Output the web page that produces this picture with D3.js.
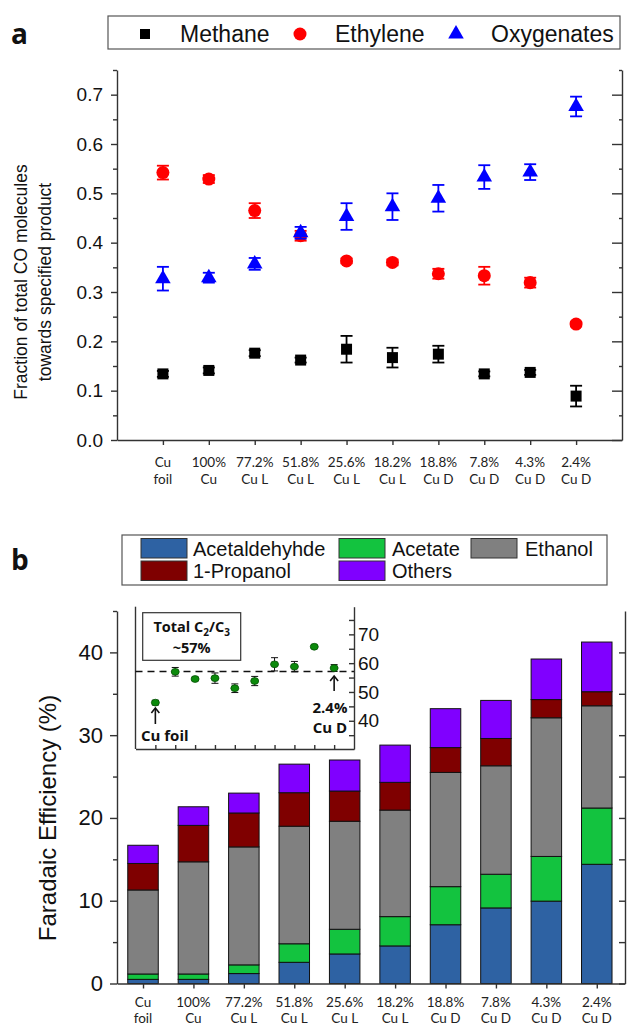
<!DOCTYPE html>
<html>
<head>
<meta charset="utf-8">
<script src="https://cdnjs.cloudflare.com/ajax/libs/d3/7.8.5/d3.min.js"></script>
<style>
  body { margin: 0; background: #fff; }
  text { font-family: "Liberation Sans", Arial, sans-serif; fill: #111; }
  .cat { font-family: Lato, "Open Sans", sans-serif; font-size: 13.5px; fill: #222; }
  .bold { font-family: "Open Sans", sans-serif; font-weight: bold; }
  .axis path, .axis line { stroke: #333; stroke-width: 1.4; }
</style>
</head>
<body>
<div id="chart"></div>
<script>
// Sample names, split in two lines for tick labels
const labelTop = ['Cu', '100%', '77.2%', '51.8%', '25.6%', '18.2%', '18.8%', '7.8%', '4.3%', '2.4%'];
const labelBottom = ['foil', 'Cu', 'Cu L', 'Cu L', 'Cu L', 'Cu L', 'Cu D', 'Cu D', 'Cu D', 'Cu D'];

// Panel a: fraction of CO molecules
const methane = [0.134, 0.141, 0.176, 0.162, 0.184, 0.167, 0.174, 0.134, 0.137, 0.089];
const methaneErr = [0.006, 0.006, 0.006, 0.005, 0.027, 0.02, 0.017, 0.005, 0.005, 0.021];
const ethylene = [0.542, 0.529, 0.465, 0.414, 0.363, 0.360, 0.337, 0.333, 0.319, 0.235];
const ethyleneErr = [0.014, 0.008, 0.015, 0.01, 0.005, 0.006, 0.01, 0.018, 0.01, 0.005];
const oxygenates = [0.327, 0.329, 0.357, 0.420, 0.453, 0.473, 0.490, 0.533, 0.543, 0.676];
const oxygenatesErr = [0.024, 0.01, 0.012, 0.012, 0.027, 0.027, 0.027, 0.024, 0.016, 0.02];
const yTicksA = [0, 0.1, 0.2, 0.3, 0.4, 0.5, 0.6, 0.7];

// Panel b: faradaic efficiency (%) stacks
const acetaldehyde = [0.5, 0.5, 1.2, 2.56, 3.57, 4.54, 7.1, 9.13, 9.95, 14.4];
const acetate = [0.65, 0.65, 1.05, 2.24, 2.98, 3.54, 4.6, 4.07, 5.4, 6.8];
const ethanol = [10.15, 13.55, 14.25, 14.2, 13.05, 12.87, 13.8, 13.1, 16.75, 12.35];
const propanol = [3.2, 4.4, 4.1, 4.05, 3.65, 3.35, 3.0, 3.3, 2.2, 1.7];
const others = [2.2, 2.25, 2.4, 3.45, 3.75, 4.5, 4.7, 4.6, 4.9, 6.0];
const yTicksB = [0, 10, 20, 30, 40];

// Inset: total C2/C3 (%)
const c2c3 = [46.3, 57.0, 54.5, 54.8, 51.3, 53.8, 59.6, 58.8, 65.7, 58.3];
const c2c3Err = [0.8, 1.5, 0.6, 1.8, 1.5, 1.6, 2.3, 1.8, 0.4, 1.2];
const c2c3Mean = 57.1;
const yTicksInset = [40, 50, 60, 70];

const WIDTH = 627, HEIGHT = 1025;

const svg = d3.select('#chart').append('svg')
  .attr('width', WIDTH).attr('height', HEIGHT)
  .style('display', 'block');

svg.append('rect').attr('width', WIDTH).attr('height', HEIGHT).attr('fill', '#fff');

// ---------- panel a ----------
const xA = d3.scaleLinear().domain([-1, 10]).range([117, 622]);
const yA = d3.scaleLinear().domain([0, 0.75]).range([440, 70]);
const idx = d3.range(10);

svg.append('text').attr('class', 'bold').attr('x', 11).attr('y', 44)
  .attr('font-size', 28).text('a');

// left axis
const leftA = svg.append('g').attr('class', 'axis').attr('transform', 'translate(117,0)')
  .call(d3.axisLeft(yA).tickValues(yTicksA).tickSize(6).tickPadding(8).tickSizeOuter(0)
    .tickFormat(d3.format('.1f')));
leftA.selectAll('text').attr('font-size', 19).attr('font-family', '"Liberation Sans", Arial');
svg.append('g').attr('class', 'axis').attr('transform', 'translate(117,0)')
  .call(d3.axisLeft(yA).tickValues(yTicksA.map(d => d + 0.05)).tickSize(4).tickFormat(''))
  .select('.domain').remove();

// right axis
svg.append('g').attr('class', 'axis').attr('transform', 'translate(622,0)')
  .call(d3.axisLeft(yA).tickValues(yTicksA).tickSize(10).tickSizeOuter(0).tickFormat(''));
svg.append('g').attr('class', 'axis').attr('transform', 'translate(622,0)')
  .call(d3.axisLeft(yA).tickValues(yTicksA.map(d => d + 0.05)).tickSize(3).tickFormat(''))
  .select('.domain').remove();

// bottom axis
svg.append('g').attr('class', 'axis').attr('transform', 'translate(0,440)')
  .call(d3.axisBottom(xA).tickValues(idx).tickSize(5).tickSizeOuter(0).tickFormat(''));

function catLabels(scale, y1, y2) {
  const g = svg.append('g');
  g.selectAll('.t1').data(labelTop).enter().append('text').attr('class', 'cat')
    .attr('x', (d, i) => scale(i)).attr('y', y1).attr('text-anchor', 'middle').text(d => d);
  g.selectAll('.t2').data(labelBottom).enter().append('text').attr('class', 'cat')
    .attr('x', (d, i) => scale(i)).attr('y', y2).attr('text-anchor', 'middle').text(d => d);
}
catLabels(xA, 466.5, 483.5);

// y title
const titleA = svg.append('text').attr('transform', 'translate(27,282) rotate(-90)')
  .attr('text-anchor', 'middle').attr('font-size', 17.5);
titleA.append('tspan').attr('x', 0).attr('dy', 0).text('Fraction of total CO molecules');
titleA.append('tspan').attr('x', 0).attr('dy', 24).text('towards specified product');

// series
const seriesA = [
  { name: 'Methane', values: methane, err: methaneErr, color: '#000', sym: d3.symbolSquare, size: 121 },
  { name: 'Ethylene', values: ethylene, err: ethyleneErr, color: '#ff0000', sym: d3.symbolCircle, size: 133 },
  { name: 'Oxygenates', values: oxygenates, err: oxygenatesErr, color: '#0000ff', sym: d3.symbolTriangle, size: 105 }
];

seriesA.forEach(s => {
  const g = svg.append('g');
  const eb = g.selectAll('.eb').data(s.values).enter().append('g')
    .attr('stroke', s.color).attr('stroke-width', 1.8);
  eb.append('line').attr('x1', (d, i) => xA(i)).attr('x2', (d, i) => xA(i))
    .attr('y1', (d, i) => yA(d - s.err[i])).attr('y2', (d, i) => yA(d + s.err[i]));
  eb.append('line').attr('x1', (d, i) => xA(i) - 6).attr('x2', (d, i) => xA(i) + 6)
    .attr('y1', (d, i) => yA(d - s.err[i])).attr('y2', (d, i) => yA(d - s.err[i]));
  eb.append('line').attr('x1', (d, i) => xA(i) - 6).attr('x2', (d, i) => xA(i) + 6)
    .attr('y1', (d, i) => yA(d + s.err[i])).attr('y2', (d, i) => yA(d + s.err[i]));
  g.selectAll('.pt').data(s.values).enter().append('path')
    .attr('d', d3.symbol().type(s.sym).size(s.size))
    .attr('transform', (d, i) => 'translate(' + xA(i) + ',' + yA(d) + ')')
    .attr('fill', s.color);
});

// legend a
svg.append('rect').attr('x', 108).attr('y', 16).attr('width', 512).attr('height', 33)
  .attr('fill', '#fff').attr('stroke', '#555').attr('stroke-width', 1.2);
const legA = [[145, 180], [300, 335], [456, 491]];
seriesA.forEach((s, i) => {
  svg.append('path').attr('d', d3.symbol().type(s.sym).size(s.sym === d3.symbolSquare ? 100 : s.size))
    .attr('transform', 'translate(' + legA[i][0] + ',34)').attr('fill', s.color);
  svg.append('text').attr('x', legA[i][1]).attr('y', 42).attr('font-size', 23).text(s.name);
});

// ---------- panel b ----------
const xB = d3.scaleLinear().domain([-0.516, 9.56]).range([117, 625]);
const yB = d3.scaleLinear().domain([0, 45]).range([983.5, 611]);
const BAR_W = 30.5;

svg.append('text').attr('class', 'bold').attr('x', 11).attr('y', 570)
  .attr('font-size', 28).text('b');

const keys = ['Acetaldehyhde', 'Acetate', 'Ethanol', '1-Propanol', 'Others'];
const colors = ['#2e62a3', '#13c33f', '#808080', '#7f0000', '#8000ff'];
const table = idx.map(i => ({
  i: i,
  'Acetaldehyhde': acetaldehyde[i], 'Acetate': acetate[i], 'Ethanol': ethanol[i],
  '1-Propanol': propanol[i], 'Others': others[i]
}));
const stacked = d3.stack().keys(keys)(table);

stacked.forEach((layer, k) => {
  svg.append('g').selectAll('rect').data(layer).enter().append('rect')
    .attr('x', d => xB(d.data.i) - BAR_W / 2)
    .attr('y', d => yB(d[1]))
    .attr('width', BAR_W)
    .attr('height', d => yB(d[0]) - yB(d[1]))
    .attr('fill', colors[k]).attr('stroke', '#111').attr('stroke-width', 1);
});

// axes b
const leftB = svg.append('g').attr('class', 'axis').attr('transform', 'translate(117,0)')
  .call(d3.axisLeft(yB).tickValues(yTicksB).tickSize(7).tickPadding(7).tickSizeOuter(0));
leftB.selectAll('text').attr('font-size', 22).attr('font-family', '"Liberation Sans", Arial');
svg.append('g').attr('class', 'axis').attr('transform', 'translate(117,0)')
  .call(d3.axisLeft(yB).tickValues(yTicksB.map(d => d + 5)).tickSize(4).tickFormat(''))
  .select('.domain').remove();
svg.append('g').attr('class', 'axis').attr('transform', 'translate(625,0)')
  .call(d3.axisLeft(yB).tickValues(d3.range(0, 45, 5)).tickSize(6).tickSizeOuter(0).tickFormat(''));
svg.append('g').attr('class', 'axis').attr('transform', 'translate(0,983.5)')
  .call(d3.axisBottom(xB).tickValues(idx).tickSize(5).tickSizeOuter(0).tickFormat(''));

catLabels(xB, 1006.5, 1022.5);

svg.append('text').attr('transform', 'translate(56,818) rotate(-90)')
  .attr('text-anchor', 'middle').attr('font-size', 24).text('Faradaic Efficiency (%)');

// legend b
svg.append('rect').attr('x', 122).attr('y', 535).attr('width', 485).attr('height', 50)
  .attr('fill', '#fff').attr('stroke', '#555').attr('stroke-width', 1.2);
const legB = [[141, 538.5, 193], [339, 538.5, 392], [471, 538.5, 525], [141, 561, 193], [339, 561, 392]];
keys.forEach((k, i) => {
  svg.append('rect').attr('x', legB[i][0]).attr('y', legB[i][1]).attr('width', 46).attr('height', 19.5)
    .attr('fill', colors[i]).attr('stroke', '#333').attr('stroke-width', 1);
  svg.append('text').attr('x', legB[i][2]).attr('y', legB[i][1] + 17).attr('font-size', 20).text(k);
});

// ---------- inset ----------
const xI = d3.scaleLinear().domain([-1, 10]).range([135.5, 354]);
const yI = d3.scaleLinear().domain([30.2, 79.6]).range([749, 606.7]);

svg.append('rect').attr('x', 135.5).attr('y', 606.7).attr('width', 218.5).attr('height', 142.3)
  .attr('fill', '#fff');
svg.append('line').attr('x1', 135.5).attr('x2', 135.5).attr('y1', 606.7).attr('y2', 749)
  .attr('stroke', '#333').attr('stroke-width', 1.4);
svg.append('g').attr('class', 'axis').attr('transform', 'translate(0,749)')
  .call(d3.axisBottom(xI).tickValues(idx).tickSize(-4).tickSizeOuter(0).tickFormat(''));
const rightI = svg.append('g').attr('class', 'axis').attr('transform', 'translate(354,0)')
  .call(d3.axisRight(yI).tickValues(d3.range(35, 80, 5)).tickSize(-5).tickPadding(4).tickSizeOuter(0)
    .tickFormat(d => yTicksInset.includes(d) ? d : ''));
rightI.selectAll('text').attr('font-size', 19).attr('font-family', '"Liberation Sans", Arial');

svg.append('line').attr('x1', 135.5).attr('x2', 354).attr('y1', yI(c2c3Mean)).attr('y2', yI(c2c3Mean))
  .attr('stroke', '#111').attr('stroke-width', 1.4).attr('stroke-dasharray', '7,5');

const ebI = svg.append('g').selectAll('g').data(c2c3).enter().append('g')
  .attr('stroke', '#111').attr('stroke-width', 1);
ebI.append('line').attr('x1', (d, i) => xI(i)).attr('x2', (d, i) => xI(i))
  .attr('y1', (d, i) => yI(d - c2c3Err[i])).attr('y2', (d, i) => yI(d + c2c3Err[i]));
ebI.append('line').attr('x1', (d, i) => xI(i) - 3.5).attr('x2', (d, i) => xI(i) + 3.5)
  .attr('y1', (d, i) => yI(d - c2c3Err[i])).attr('y2', (d, i) => yI(d - c2c3Err[i]));
ebI.append('line').attr('x1', (d, i) => xI(i) - 3.5).attr('x2', (d, i) => xI(i) + 3.5)
  .attr('y1', (d, i) => yI(d + c2c3Err[i])).attr('y2', (d, i) => yI(d + c2c3Err[i]));
svg.append('g').selectAll('ellipse').data(c2c3).enter().append('ellipse')
  .attr('cx', (d, i) => xI(i)).attr('cy', d => yI(d)).attr('rx', 4).attr('ry', 3.4)
  .attr('fill', '#0b8a0b').attr('stroke', '#065006').attr('stroke-width', 0.8);

// text box
svg.append('rect').attr('x', 142.7).attr('y', 612.7).attr('width', 98).attr('height', 47.6)
  .attr('fill', '#fff').attr('stroke', '#333').attr('stroke-width', 1.2);
const tb = svg.append('text').attr('class', 'bold').attr('x', 191.7).attr('y', 632)
  .attr('text-anchor', 'middle').attr('font-size', 14.5);
tb.append('tspan').text('Total C');
tb.append('tspan').attr('font-size', 10).attr('dy', 4).text('2');
tb.append('tspan').attr('dy', -4).text('/C');
tb.append('tspan').attr('font-size', 10).attr('dy', 4).text('3');
svg.append('text').attr('class', 'bold').attr('x', 191.7).attr('y', 653)
  .attr('text-anchor', 'middle').attr('font-size', 14.5).text('~57%');

// arrows and annotations
function arrow(x, yTail, yHead) {
  svg.append('line').attr('x1', x).attr('x2', x).attr('y1', yTail).attr('y2', yHead + 1)
    .attr('stroke', '#111').attr('stroke-width', 1.6);
  svg.append('path').attr('d', 'M' + (x - 4) + ',' + (yHead + 5) + 'L' + x + ',' + yHead + 'L' + (x + 4) + ',' + (yHead + 5))
    .attr('fill', 'none').attr('stroke', '#111').attr('stroke-width', 1.6);
}
arrow(xI(0), 724, 708);
arrow(xI(9), 691, 676);
svg.append('text').attr('class', 'bold').attr('x', 141).attr('y', 741).attr('font-size', 15).text('Cu foil');
svg.append('text').attr('class', 'bold').attr('x', 330).attr('y', 713).attr('text-anchor', 'middle')
  .attr('font-size', 15).text('2.4%');
svg.append('text').attr('class', 'bold').attr('x', 330).attr('y', 733).attr('text-anchor', 'middle')
  .attr('font-size', 15).text('Cu D');
</script>
</body>
</html>
